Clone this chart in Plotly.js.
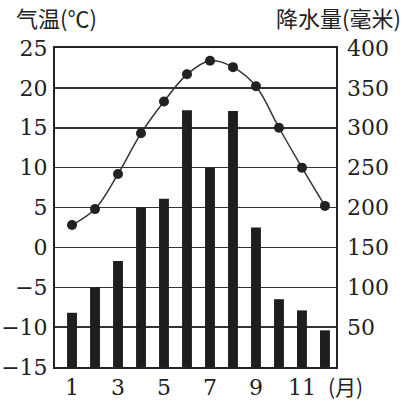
<!DOCTYPE html>
<html><head><meta charset="utf-8">
<script src="https://cdn.plot.ly/plotly-3.0.1.min.js"></script>
<style>html,body{margin:0;padding:0;background:#fff}#c{width:411px;height:419px}</style>
</head><body><div id="c"></div>
<script>
const months = [1,2,3,4,5,6,7,8,9,10,11,12];
const temperature = [2.8,4.8,9.2,14.3,18.3,21.7,23.4,22.6,20.2,15,10,5.2];
const precipitation = [68,100,133,200,211,322,250,321,175,85,71,46];
const xTickVals = [1,3,5,7,9,11];
const tempTicks = [-15,-10,-5,0,5,10,15,20,25];
const tempTickText = ['−15','−10','−5','0','5','10','15','20','25'];
const precipTicks = [50,100,150,200,250,300,350,400];

const tickFont = {family:'DejaVu Serif', size:22, color:'#222'};
const traces = [
  {type:'bar', x:months, y:precipitation, yaxis:'y2', width:0.43,
   marker:{color:'#1e1e1e', line:{width:0}}},
  {type:'scatter', mode:'lines+markers', x:months, y:temperature, yaxis:'y',
   line:{color:'#333', width:1.5, shape:'spline'},
   marker:{color:'#222', size:10}}
];
const layout = {
  width:411, height:419, showlegend:false,
  margin:{l:55, r:75, t:48, b:52},
  paper_bgcolor:'#fff', plot_bgcolor:'#fff',
  xaxis:{range:[0.26,12.48], tickvals:xTickVals, ticks:'', showgrid:false, zeroline:false,
         showline:true, mirror:true, linecolor:'#222', linewidth:2, tickfont:tickFont, ticklabelstandoff:0},
  yaxis:{range:[-15,25], tickvals:tempTicks, ticktext:tempTickText, ticks:'', showgrid:true,
         gridcolor:'#333', gridwidth:1.5, zeroline:false, showline:true, mirror:true,
         linecolor:'#222', linewidth:2, tickfont:tickFont, ticklabelstandoff:1},
  yaxis2:{range:[0,400], overlaying:'y', side:'right', tickvals:precipTicks, ticks:'',
          showgrid:false, zeroline:false, showline:false, tickfont:tickFont, ticklabelstandoff:10},
  annotations:[
    {text:'气温(℃)', xref:'paper', yref:'paper', x:-0.145, y:1.0, xanchor:'left', yanchor:'bottom',
     yshift:13, showarrow:false, font:{family:'Noto Sans CJK SC', size:22, color:'#222'}},
    {text:'降水量(毫米)', xref:'paper', yref:'paper', x:1.24, y:1.0, xanchor:'right', yanchor:'bottom',
     yshift:13, showarrow:false, font:{family:'Noto Sans CJK SC', size:22, color:'#222'}},
    {text:'(月)', xref:'x', yref:'paper', x:12.05, y:0, xanchor:'left', yanchor:'top',
     yshift:-2, showarrow:false, font:{family:'Noto Sans CJK SC', size:21, color:'#222'}}
  ]
};
Plotly.newPlot('c', traces, layout, {displayModeBar:false, staticPlot:true});
</script></body></html>
